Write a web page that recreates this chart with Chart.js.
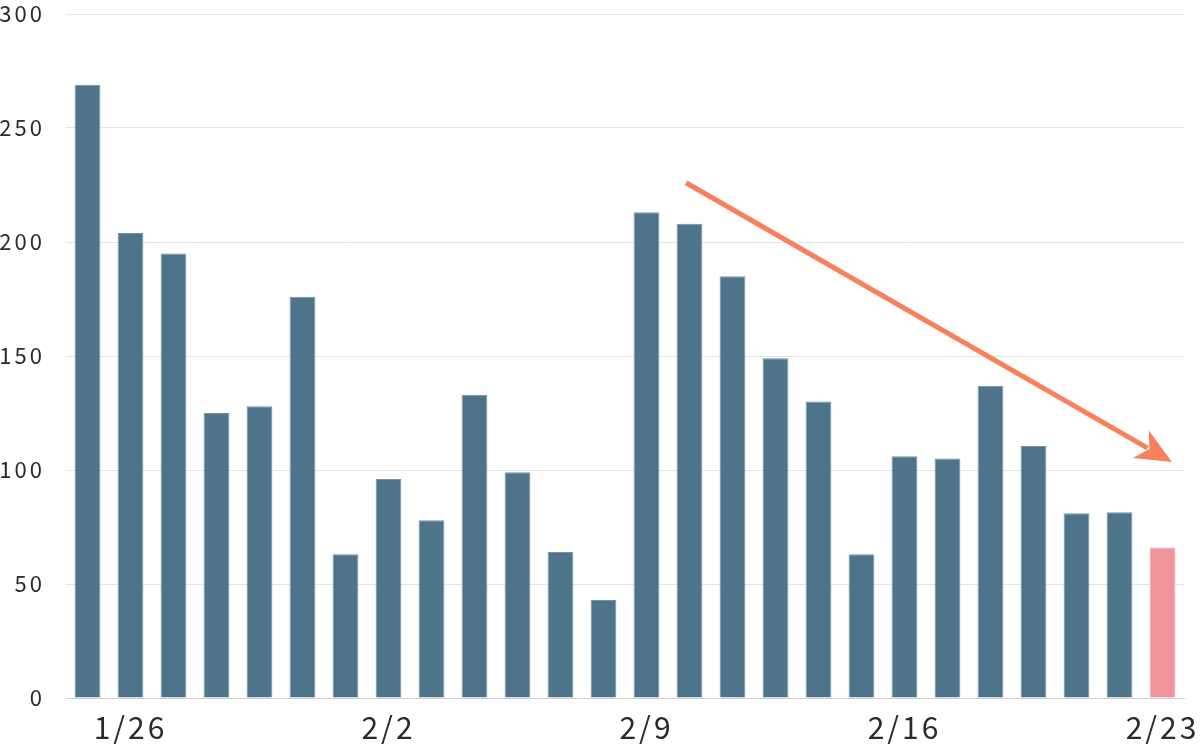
<!DOCTYPE html>
<html>
<head>
<meta charset="utf-8">
<script src="https://cdn.jsdelivr.net/npm/chart.js@4"></script>
<style>
  html, body { margin: 0; padding: 0; background: #fff; }
  #wrap { width: 1200px; height: 744px; position: relative; }
</style>
</head>
<body>
<div id="wrap"><canvas id="c" width="1200" height="744"></canvas></div>
<script>
// Daily counts (26 days)
const categories = ['', '1/26', '', '', '', '', '', '2/2', '', '', '', '', '', '2/9', '', '', '', '', '', '2/16', '', '', '', '', '', '2/23'];
const values = [269, 204, 195, 125, 128, 176, 63, 96, 78, 133, 99, 64, 43, 213, 208, 185, 149, 130, 63, 106, 105, 137, 110.5, 81, 81.5, 66];
const yTicks = [0, 50, 100, 150, 200, 250, 300];
// Trend arrow in data coordinates: [categoryIndex, value]
const arrowStart = [13.92, 226];
const arrowEnd = [25.22, 103.5];

const barColor = '#4e748c';
const lastColor = '#f1959a';
const colors = values.map((v, i) => i === values.length - 1 ? lastColor : barColor);
const borders = values.map((v, i) => i === values.length - 1 ? '#f4aaae' : '#7392a7');

const spacing = {
  id: 'spacing',
  beforeDraw(chart) { chart.ctx.letterSpacing = '3px'; }
};

const arrow = {
  id: 'arrow',
  afterDatasetsDraw(chart) {
    const { ctx, scales: { x, y } } = chart;
    const x1 = x.getPixelForValue(arrowStart[0]), y1 = y.getPixelForValue(arrowStart[1]);
    const x2 = x.getPixelForValue(arrowEnd[0]), y2 = y.getPixelForValue(arrowEnd[1]);
    const ang = Math.atan2(y2 - y1, x2 - x1);
    const headLen = 36, headW = 16;
    const bx = x2 - headLen * Math.cos(ang), by = y2 - headLen * Math.sin(ang);
    ctx.save();
    ctx.strokeStyle = '#f8805c';
    ctx.fillStyle = '#f8805c';
    ctx.lineWidth = 5;
    ctx.beginPath();
    ctx.moveTo(x1, y1);
    ctx.lineTo(bx + 8 * Math.cos(ang), by + 8 * Math.sin(ang));
    ctx.stroke();
    const px = -Math.sin(ang), py = Math.cos(ang);
    ctx.beginPath();
    ctx.moveTo(x2, y2);
    ctx.lineTo(bx + headW * px, by + headW * py);
    ctx.lineTo(bx + 10 * Math.cos(ang), by + 10 * Math.sin(ang));
    ctx.lineTo(bx - headW * px, by - headW * py);
    ctx.closePath();
    ctx.fill();
    ctx.restore();
  }
};

new Chart(document.getElementById('c'), {
  type: 'bar',
  data: {
    labels: categories,
    datasets: [{
      data: values,
      backgroundColor: colors,
      borderColor: borders,
      borderWidth: 1,
      barPercentage: 0.6,
      categoryPercentage: 1.0
    }]
  },
  options: {
    responsive: false,
    animation: false,
    layout: { padding: { top: 14, right: 16, left: 0, bottom: 0 } },
    plugins: { legend: { display: false }, tooltip: { enabled: false } },
    scales: {
      x: {
        afterFit(scale) { scale.height = 46; scale.paddingLeft = 0; scale.paddingRight = 0; },
        grid: { display: false, drawTicks: false },
        border: { display: true, color: '#d0d0d0', width: 1 },
        ticks: {
          autoSkip: false, maxRotation: 0, padding: 12,
          color: '#2a2a2a',
          font: { family: '"Noto Sans CJK JP", "Noto Sans", sans-serif', size: 30 }
        }
      },
      y: {
        min: 0, max: 300,
        afterBuildTicks(scale) { scale.ticks = yTicks.map(v => ({ value: v })); },
        afterFit(scale) { scale.width = 66; scale.paddingTop = 0; scale.paddingBottom = 0; },
        grid: { color: '#e4e4e4', drawTicks: false },
        border: { display: false },
        ticks: {
          padding: 21,
          color: '#2a2a2a',
          font: { family: '"Noto Sans CJK JP", "Noto Sans", sans-serif', size: 22 }
        }
      }
    }
  },
  plugins: [spacing, arrow]
});
</script>
</body>
</html>
